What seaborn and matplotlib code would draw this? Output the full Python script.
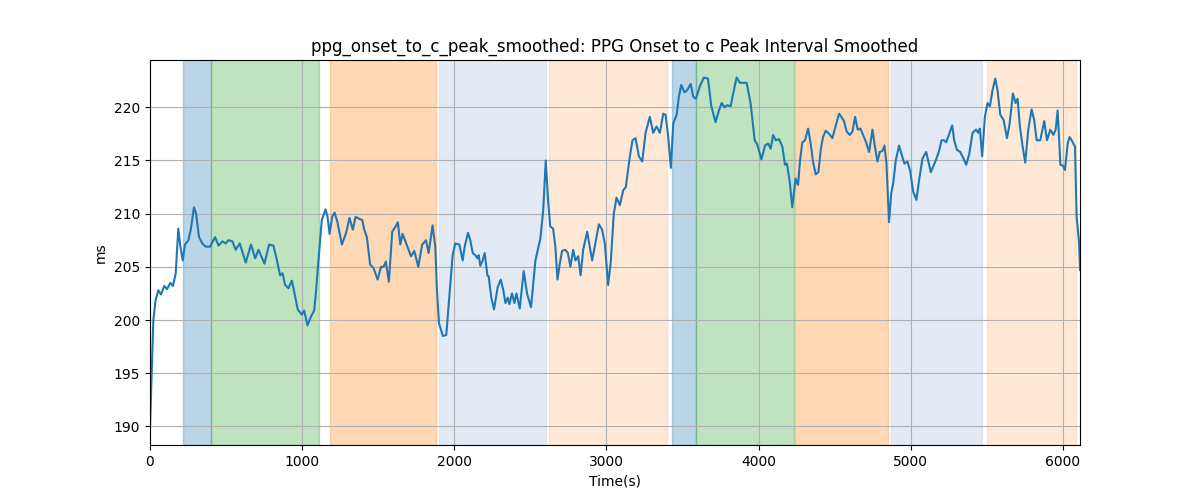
import matplotlib
matplotlib.use("Agg")
import matplotlib.pyplot as plt
import seaborn as sns
import pandas as pd

# ── Data ──────────────────────────────────────────────────────────────────────

time_s = [
    0, 22, 37, 55, 72, 94, 112, 134, 151, 169, 186, 200, 215, 230, 252, 268,
    289, 303, 322, 344, 366, 395, 428, 450, 476, 498, 515, 542, 563, 590, 629,
    664, 691, 713, 752, 783, 811, 833, 855, 871, 888, 910, 932, 950, 971, 998,
    1013, 1035, 1057, 1079, 1090, 1107, 1129, 1154, 1167, 1180, 1197, 1213,
    1232, 1261, 1289, 1311, 1333, 1351, 1377, 1395, 1408, 1425, 1447, 1469,
    1496, 1518, 1535, 1550, 1570, 1592, 1614, 1629, 1645, 1660, 1684, 1715,
    1737, 1763, 1789, 1814, 1831, 1857, 1875, 1886, 1899, 1925, 1947, 1969,
    1989, 2006, 2033, 2055, 2068, 2090, 2105, 2121, 2138, 2152, 2160, 2171,
    2186, 2200, 2217, 2226, 2243, 2261, 2285, 2305, 2322, 2336, 2351, 2362,
    2379, 2395, 2408, 2430, 2456, 2478, 2504, 2533, 2566, 2584, 2601, 2616,
    2630, 2649, 2664, 2678, 2693, 2708, 2730, 2746, 2763, 2781, 2796, 2814,
    2830, 2847, 2873, 2906, 2928, 2950, 2971, 2989, 3011, 3029, 3048, 3066,
    3088, 3110, 3127, 3154, 3171, 3191, 3213, 3235, 3257, 3285, 3307, 3329,
    3351, 3373, 3388, 3406, 3423, 3439, 3461, 3476, 3491, 3513, 3530, 3553,
    3570, 3588, 3614, 3640, 3667, 3689, 3717, 3739, 3757, 3776, 3794, 3816,
    3833, 3855, 3877, 3899, 3921, 3947, 3974, 3991, 4018, 4042, 4063, 4079,
    4095, 4112, 4134, 4156, 4173, 4186, 4204, 4221, 4243, 4259, 4272, 4287,
    4305, 4325, 4342, 4357, 4375, 4393, 4408, 4423, 4441, 4463, 4485, 4507,
    4529, 4561, 4579, 4599, 4616, 4634, 4651, 4669, 4686, 4704, 4726, 4748,
    4763, 4781, 4796, 4814, 4827, 4840, 4857, 4871, 4886, 4901, 4923, 4941,
    4958, 4978, 4996, 5015, 5037, 5055, 5077, 5101, 5132, 5164, 5186, 5202,
    5219, 5232, 5250, 5272, 5285, 5303, 5325, 5346, 5364, 5384, 5406, 5428,
    5443, 5454, 5469, 5487, 5504, 5520, 5537, 5555, 5570, 5588, 5610, 5632,
    5649, 5671, 5689, 5702, 5717, 5735, 5752, 5772, 5794, 5811, 5827, 5851,
    5877, 5895, 5917, 5937, 5952, 5965, 5983, 6000, 6013, 6031, 6044, 6061,
    6079, 6090, 6105, 6112,
]

interval_ms = [
    189.9, 200.0, 201.9, 202.8, 202.4, 203.2, 202.9, 203.5, 203.2, 204.4,
    208.6, 206.9, 205.6, 207.1, 207.5, 208.5, 210.6, 210.0, 207.8, 207.2,
    206.9, 206.9, 207.8, 207.0, 207.4, 207.2, 207.5, 207.4, 206.6, 207.2,
    205.4, 207.1, 205.8, 206.6, 205.3, 207.1, 207.0, 205.7, 204.2, 204.4,
    203.3, 203.0, 203.7, 202.5, 201.0, 200.5, 200.9, 199.5, 200.3, 200.9,
    202.5, 205.6, 209.4, 210.4, 209.7, 208.1, 209.7, 210.1, 209.2, 207.1,
    208.2, 209.6, 208.5, 209.7, 209.5, 209.4, 208.5, 207.8, 205.2, 204.9,
    203.8, 205.0, 205.0, 205.5, 203.6, 208.3, 208.8, 209.2, 207.1, 208.1,
    207.2, 206.0, 206.5, 205.0, 207.1, 207.5, 206.3, 208.9, 206.9, 202.8,
    199.7, 198.5, 198.6, 202.5, 206.1, 207.2, 207.1, 205.6, 206.9, 208.2,
    207.5, 206.3, 206.1, 205.8, 206.1, 205.1, 205.6, 206.3, 204.2, 204.1,
    202.1, 201.0, 203.1, 203.8, 202.8, 201.6, 202.1, 201.5, 202.5, 201.6,
    202.5, 201.1, 204.6, 202.5, 201.2, 205.6, 207.7, 210.3, 215.0, 211.3,
    208.8, 208.6, 206.9, 203.8, 205.3, 206.5, 206.6, 206.3, 205.0, 206.6,
    205.6, 206.0, 204.2, 206.6, 208.3, 205.6, 207.3, 209.0, 208.5, 207.2,
    203.3, 205.6, 210.0, 211.5, 210.8, 212.2, 212.5, 215.4, 216.9, 217.1,
    215.4, 214.9, 217.6, 219.1, 217.6, 218.2, 217.6, 219.4, 219.3, 217.2,
    214.3, 218.5, 219.3, 221.0, 222.1, 221.4, 221.6, 222.2, 221.0, 220.8,
    222.0, 222.8, 222.7, 220.1, 218.6, 219.7, 220.4, 220.0, 220.2, 220.1,
    221.3, 222.8, 222.3, 222.3, 222.3, 220.4, 216.9, 216.5, 215.1, 216.4,
    216.6, 216.1, 217.4, 216.9, 217.0, 216.3, 214.6, 214.7, 213.0, 210.6,
    213.3, 212.7, 215.0, 216.7, 216.9, 218.0, 216.6, 214.9, 213.7, 213.9,
    216.0, 217.2, 217.8, 217.5, 217.1, 218.3, 219.4, 218.7, 217.7, 217.4,
    217.7, 219.1, 217.9, 218.0, 217.4, 216.8, 215.8, 217.9, 216.4, 214.9,
    215.8, 215.9, 216.4, 214.7, 209.2, 211.9, 213.0, 215.0, 216.4, 215.5,
    214.7, 214.9, 214.0, 212.1, 211.3, 213.2, 215.2, 215.8, 213.9, 215.0,
    215.9, 216.9, 216.9, 216.7, 217.4, 218.3, 216.9, 216.0, 215.8, 215.2,
    214.6, 215.6, 217.6, 217.9, 217.6, 218.0, 215.4, 219.1, 220.4, 220.1,
    221.6, 222.7, 221.6, 219.3, 218.8, 217.1, 218.4, 221.3, 220.4, 220.8,
    218.2, 216.3, 214.8, 217.9, 219.8, 218.8, 216.9, 216.9, 218.7, 216.9,
    217.9, 217.4, 217.9, 219.7, 214.6, 214.5, 214.1, 216.6, 217.2, 216.8,
    216.3, 209.7, 207.4, 204.7,
]

# shaded phases: (start, end, colour, alpha)
span_start = [217, 401, 1184, 1901, 2625, 3428, 3586, 4237, 4868, 5500]
span_end = [401, 1112, 1882, 2605, 3395, 3586, 4230, 4849, 5467, 6086]
span_color = ["tab:blue", "tab:green", "tab:orange", "lightsteelblue", "tab:orange",
              "tab:blue", "tab:green", "tab:orange", "lightsteelblue", "tab:orange"]
span_alpha = [0.3, 0.3, 0.3, 0.35, 0.17, 0.3, 0.3, 0.3, 0.35, 0.17]

df = pd.DataFrame({"time": time_s, "value": interval_ms})

# ── Plot ──────────────────────────────────────────────────────────────────────

fig, ax = plt.subplots(figsize=(12, 5), dpi=100)

for s, e, c, a in zip(span_start, span_end, span_color, span_alpha):
    ax.axvspan(s, e, color=c, alpha=a)

sns.lineplot(data=df, x="time", y="value", ax=ax, color="tab:blue",
             linewidth=1.5, estimator=None, sort=False)

ax.set_title("ppg_onset_to_c_peak_smoothed: PPG Onset to c Peak Interval Smoothed")
ax.set_xlabel("Time(s)")
ax.set_ylabel("ms")
ax.set_xlim(0, 6112)
ax.grid(True)

fig.savefig("out.png", dpi=100)
